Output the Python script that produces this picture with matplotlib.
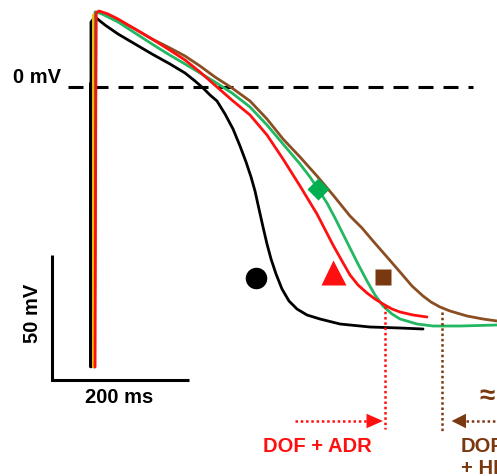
import matplotlib
matplotlib.use("Agg")
import matplotlib.pyplot as plt
from matplotlib.patches import Polygon

plt.rcParams['font.family'] = ['Liberation Sans', 'DejaVu Sans']
plt.rcParams['lines.scale_dashes'] = False

# ---- data (time in ms, membrane potential in mV) ----
black_t = [-3, -3, 2.9, 17.5, 36.5, 61.3, 86.1, 112.4, 134.3, 148.9, 160.6, 170.8, 181.0, 192.7,
           204.4, 214.6, 223.4, 230.7, 236.5, 242.3, 248.2, 254.0, 259.9, 267.2, 275.9, 286.1,
           297.8, 312.4, 331.4, 360.6, 404.4, 448.2, 481.8]
black_v = [-112, 26, 28, 24.8, 21.2, 17.2, 13.2, 9.2, 5.6, 2.4, -0.4, -3.2, -5.6, -10.8,
           -16.8, -23.6, -30, -36, -41.6, -48.8, -56, -62.8, -68.8, -74.8, -80.8, -85.6,
           -88.8, -91.2, -92.8, -94.8, -96, -96.4, -96.8]

red_t = [3, 4.4, 8.8, 21.9, 36.5, 61.3, 86.1, 109.5, 134.3, 156.2, 181.0, 204.4, 229.2, 254.0,
         277.4, 302.2, 327.0, 350.4, 363.5, 375.2, 386.9, 400.0, 411.7, 423.4, 436.5, 448.2,
         467.2, 487.6]
red_v = [-112, 29.6, 30.4, 29.2, 27.2, 23.2, 19.2, 15.2, 10.8, 6, 0, -5.6, -11.2, -19.2,
         -28.8, -39.6, -50.8, -63.2, -69.6, -75.2, -79.2, -82.4, -84.8, -86.8, -88.8, -90,
         -91.2, -92]

green_t = [1, 2.9, 10.2, 21.9, 36.5, 61.3, 86.1, 109.5, 134.3, 156.2, 178.1, 202.9, 229.2,
           254.0, 277.4, 302.2, 316.8, 328.5, 341.6, 353.3, 365.0, 375.2, 386.9, 400.0, 411.7,
           423.4, 436.5, 448.2, 473.0, 496.4, 535.8, 589.8]
green_v = [-112, 30, 29.6, 28, 26, 21.6, 17.2, 13.2, 9.2, 5.6, 2, -2.4, -8,
           -15.2, -22.8, -30.8, -36, -40.8, -46.4, -52.4, -58.8, -64.4, -70.8, -77.6, -83.2,
           -87.6, -90.8, -92.8, -94.8, -95.6, -95.6, -95.2]

brown_t = [2, 4.4, 10.2, 21.9, 36.5, 61.3, 86.1, 109.5, 134.3, 156.2, 178.1, 202.9, 229.2,
           254.0, 277.4, 302.2, 327.0, 350.4, 375.2, 392.7, 408.8, 429.2, 448.2, 465.7, 481.8,
           493.4, 506.6, 521.2, 546.0, 569.3, 589.8]
brown_v = [-112, 30, 29.6, 28.4, 26.8, 23.2, 19.2, 16, 12.4, 8.4, 4, -0.4, -5.6,
           -12.8, -20.8, -28, -35.6, -43.2, -51.6, -56.4, -61.6, -68, -74, -79.6, -83.6,
           -86, -88, -89.6, -91.6, -92.8, -93.6]

yellow_t = [0.5, 0.5]
yellow_v = [-112, 29]

# markers (t, v)
markers = {
    'black': (238, -76.4),
    'red': (350, -74),
    'brown': (423, -76),
    'green': (328.5, -40.8),
}

# reference lines / scale bars
zero_line_t = [-36.5, 554.7]
scale_t0, scale_v0 = -60, -117
scale_len_t, scale_len_v = 200, 50
adr_t = 426.3       # DOF + ADR repolarisation end
hf_t = 509.5        # DOF + HF repolarisation end
arrow_v = -133.6

RED = '#FF1010'
GREEN = '#22B862'
GREEN_M = '#00B050'
BROWN = '#8A4E22'
BROWN_M = '#7A3810'

W, H = 497, 477
fig = plt.figure(figsize=(W / 100, H / 100), dpi=100)
ax = fig.add_axes([0, 0, 1, 1])
ax.set_xlim(-135.8, 589.8)
ax.set_ylim(-155.6, 35.2)
ax.axis('off')

# 0 mV dashed line
ax.plot(zero_line_t, [0, 0], color='black', lw=2.2, dashes=(10.8, 7.2), solid_capstyle='butt')

# traces
kw = dict(lw=2.0, solid_joinstyle='round', solid_capstyle='round')
ax.plot(black_t, black_v, color='black', **kw)
ax.plot([-3.5, -3.5], [-112, 2], color='black', lw=3.6, solid_capstyle='butt')
ax.plot(brown_t, brown_v, color=BROWN, **kw)
ax.plot(green_t, green_v, color=GREEN, **kw)
ax.plot(yellow_t, yellow_v, color='#F2C200', lw=1.4)
ax.plot(red_t, red_v, color=RED, **kw)

# markers
ax.plot(*markers['black'], marker='o', ms=15.5, color='black', mec='none')
ax.plot(*markers['red'], marker='^', ms=18, color=RED, mec='none')
ax.plot(*markers['brown'], marker='s', ms=12, color=BROWN_M, mec='none')
ax.plot(*markers['green'], marker='D', ms=11, color=GREEN_M, mec='none')

# scale bars
ax.plot([scale_t0, scale_t0, scale_t0 + scale_len_t],
        [scale_v0 + scale_len_v, scale_v0, scale_v0],
        color='black', lw=2.2, solid_joinstyle='miter', solid_capstyle='butt')

# dotted markers of repolarisation end
ax.plot([adr_t, adr_t], [-87.6, -136.8], color=RED, lw=1.8, dashes=(1.8, 2.0))
ax.plot([hf_t, hf_t], [-90, -137.6], color=BROWN_M, lw=1.8, dashes=(1.8, 2.0))

# arrows
head_len = 24   # ms
head_half = 2.9  # mV
ax.plot([295, adr_t - head_len], [arrow_v, arrow_v], color=RED, lw=1.8, dashes=(1.8, 2.0))
ax.add_patch(Polygon([[adr_t - 3, arrow_v], [adr_t - 3 - head_len, arrow_v + head_half],
                      [adr_t - 3 - head_len, arrow_v - head_half]], closed=True,
                     color=RED, lw=0))
hf_tip = hf_t + 14
ax.plot([hf_tip + 21, 600], [arrow_v, arrow_v], color=BROWN_M, lw=1.8, dashes=(1.8, 2.0))
ax.add_patch(Polygon([[hf_tip, arrow_v], [hf_tip + 21, arrow_v + head_half],
                      [hf_tip + 21, arrow_v - head_half]], closed=True,
                     color=BROWN_M, lw=0))

def ft(x, y, s, **kw):
    fig.text(x / W, 1 - y / H, s, fontweight='bold', **kw)

ft(13, 83, '0 mV', fontsize=14.5, ha='left', va='baseline', color='black')
ft(33, 313, '50 mV', fontsize=14.5, ha='center', va='center', rotation=90, color='black')
ft(119, 403, '200 ms', fontsize=14.5, ha='center', va='baseline', color='black')
ft(263, 452, 'DOF + ADR', fontsize=14.5, ha='left', va='baseline', color=RED)
ft(461, 452, 'DOF', fontsize=14.5, ha='left', va='baseline', color=BROWN_M)
ft(461, 474, '+ HF', fontsize=14.5, ha='left', va='baseline', color=BROWN_M)
ft(479, 397, '\u2248', fontsize=20, ha='left', va='center', color=BROWN_M)

fig.savefig('out.png', dpi=100)
